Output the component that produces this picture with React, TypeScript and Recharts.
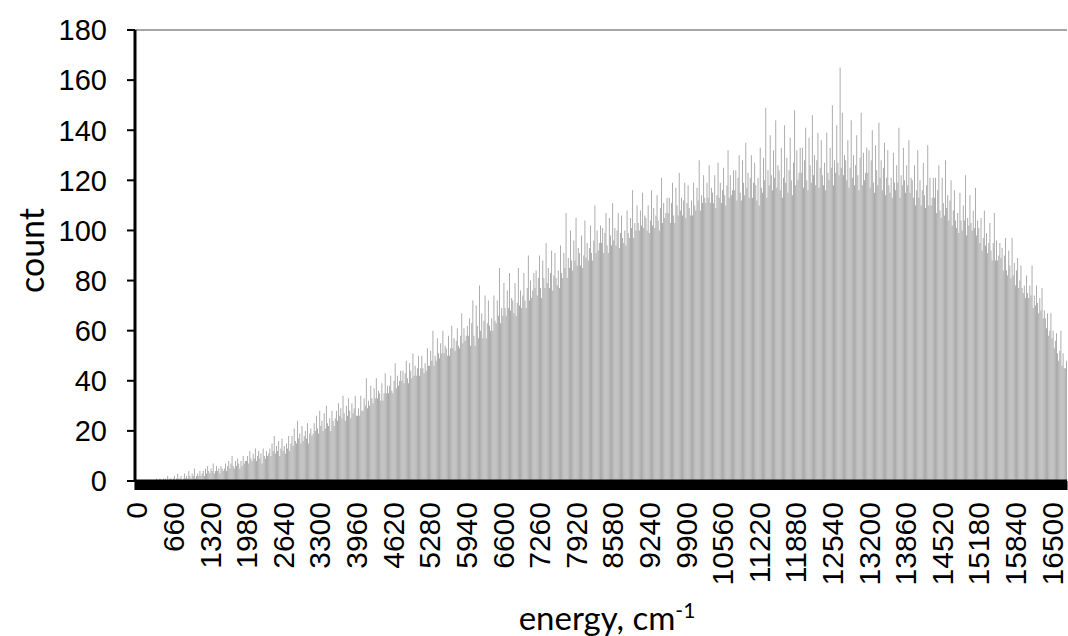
import React from 'react';
import { BarChart, Bar, XAxis, YAxis, ReferenceLine } from 'recharts';

// histogram bins are 20 cm-1 wide, starting at 0
const BIN_WIDTH = 20;

// counts per bin, one line = 20 bins (400 cm-1)
const counts: number[] = [
  0, 0, 0, 0, 0, 0, 0, 0, 0, 0, 0, 0, 0, 0, 0, 0, 0, 0, 0, 1,
  0, 0, 1, 0, 0, 1, 0, 1, 0, 2, 0, 1, 1, 0, 1, 2, 0, 1, 3, 1,
  1, 2, 0, 1, 3, 1, 2, 1, 4, 2, 1, 3, 2, 5, 1, 2, 3, 2, 4, 2,
  3, 4, 2, 5, 3, 6, 4, 3, 5, 4, 7, 3, 4, 6, 4, 5, 3, 6, 5, 4,
  5, 7, 4, 6, 8, 5, 7, 10, 6, 5, 8, 6, 9, 7, 5, 8, 6, 10, 7, 8,
  8, 10, 7, 12, 9, 8, 11, 9, 13, 8, 10, 12, 9, 11, 7, 13, 10, 9, 12, 10,
  11, 13, 10, 15, 12, 18, 11, 14, 12, 16, 10, 13, 17, 12, 14, 11, 15, 13, 18, 12,
  15, 18, 14, 21, 16, 15, 24, 17, 19, 15, 22, 16, 18, 20, 17, 23, 15, 19, 21, 18,
  19, 23, 20, 26, 21, 19, 28, 22, 24, 20, 27, 21, 30, 23, 22, 25, 20, 28, 24, 22,
  25, 28, 24, 31, 26, 29, 25, 34, 27, 24, 30, 26, 33, 28, 25, 31, 27, 29, 34, 26,
  26, 29, 26, 34, 28, 28, 33, 30, 41, 29, 32, 30, 38, 33, 31, 37, 33, 41, 33, 36,
  35, 32, 39, 32, 35, 43, 35, 38, 35, 38, 42, 36, 35, 40, 47, 37, 42, 38, 40, 44,
  40, 44, 39, 43, 48, 41, 39, 47, 44, 41, 51, 42, 46, 42, 45, 50, 42, 45, 50, 45,
  43, 47, 44, 53, 46, 46, 52, 48, 60, 46, 50, 48, 57, 51, 49, 55, 51, 60, 51, 54,
  53, 50, 58, 50, 53, 62, 53, 57, 52, 56, 61, 54, 53, 58, 67, 55, 61, 56, 58, 62,
  58, 65, 54, 63, 72, 58, 54, 70, 62, 57, 78, 60, 67, 57, 64, 74, 57, 63, 72, 62,
  60, 65, 60, 74, 64, 63, 72, 66, 85, 63, 69, 66, 79, 69, 66, 76, 69, 83, 68, 73,
  72, 67, 79, 66, 71, 85, 70, 76, 69, 74, 83, 72, 69, 77, 90, 72, 80, 73, 76, 83,
  77, 84, 74, 81, 90, 77, 73, 88, 81, 77, 95, 79, 85, 77, 83, 92, 76, 82, 91, 81,
  78, 84, 77, 94, 83, 81, 91, 85, 107, 81, 89, 85, 100, 88, 84, 96, 88, 105, 86, 93,
  91, 86, 98, 85, 90, 104, 89, 95, 88, 93, 102, 91, 88, 96, 110, 91, 100, 92, 95, 102,
  95, 101, 91, 99, 107, 94, 91, 105, 98, 94, 111, 96, 101, 94, 100, 107, 93, 99, 106, 97,
  95, 100, 94, 108, 99, 97, 105, 101, 116, 97, 103, 100, 110, 103, 100, 108, 102, 115, 101, 106,
  105, 100, 110, 99, 104, 116, 102, 109, 101, 106, 114, 104, 100, 109, 121, 103, 111, 105, 107, 113,
  107, 113, 103, 111, 119, 106, 103, 117, 110, 106, 123, 108, 113, 106, 112, 119, 105, 111, 118, 109,
  106, 112, 106, 119, 110, 108, 117, 112, 128, 108, 114, 111, 122, 113, 111, 119, 113, 126, 111, 117,
  115, 111, 122, 109, 114, 127, 113, 119, 111, 116, 125, 114, 110, 118, 132, 113, 122, 114, 116, 124,
  116, 124, 112, 121, 130, 115, 112, 128, 119, 114, 135, 117, 123, 113, 121, 130, 113, 119, 127, 118,
  112, 121, 110, 133, 117, 115, 129, 120, 149, 113, 124, 118, 138, 122, 116, 132, 121, 144, 117, 126,
  124, 116, 133, 113, 121, 142, 119, 129, 115, 124, 137, 120, 114, 127, 148, 118, 132, 120, 123, 133,
  123, 133, 117, 128, 141, 120, 116, 137, 126, 119, 146, 122, 130, 118, 128, 139, 117, 125, 136, 122,
  118, 127, 116, 139, 123, 120, 133, 125, 150, 118, 128, 123, 142, 127, 122, 165, 125, 147, 122, 130,
  128, 120, 136, 117, 125, 144, 121, 130, 118, 126, 138, 122, 116, 129, 147, 118, 131, 120, 123, 133,
  123, 132, 117, 128, 140, 119, 115, 134, 124, 118, 143, 121, 128, 116, 125, 135, 114, 121, 132, 118,
  115, 121, 113, 131, 119, 116, 126, 119, 141, 113, 122, 118, 133, 120, 115, 126, 118, 136, 115, 121,
  120, 113, 126, 110, 116, 132, 113, 120, 110, 116, 127, 114, 109, 118, 134, 110, 121, 110, 113, 121,
  113, 121, 107, 116, 126, 108, 105, 121, 111, 106, 128, 109, 114, 104, 112, 120, 102, 108, 116, 104,
  101, 107, 99, 115, 104, 100, 110, 104, 122, 98, 105, 102, 114, 103, 100, 108, 101, 117, 98, 104,
  101, 95, 105, 92, 97, 108, 94, 99, 91, 95, 103, 92, 88, 95, 107, 88, 96, 88, 90, 95,
  89, 93, 84, 90, 97, 84, 82, 92, 86, 81, 97, 82, 87, 78, 84, 89, 77, 80, 86, 77,
  75, 78, 73, 82, 75, 73, 78, 74, 86, 69, 74, 70, 78, 71, 67, 73, 68, 77, 65, 68,
  65, 61, 67, 58, 60, 67, 57, 60, 53, 56, 59, 51, 48, 52, 60, 46, 51, 45, 45, 48,
];

const xTickLabels = [
  0, 660, 1320, 1980, 2640, 3300, 3960, 4620, 5280, 5940, 6600, 7260, 7920,
  8580, 9240, 9900, 10560, 11220, 11880, 12540, 13200, 13860, 14520, 15180,
  15840, 16500,
];
const yTicks = [0, 20, 40, 60, 80, 100, 120, 140, 160, 180];

const data = counts.map((count, i) => ({ energy: i * BIN_WIDTH, count }));

const ARIAL = '"Liberation Sans", Arial, sans-serif';
const TITLE_FONT = 'Lato, "Open Sans", sans-serif';

// every bin gets a tick mark, only every 33rd gets a label
const EnergyTick = (props: any) => {
  const { x, y, payload } = props;
  if (!xTickLabels.includes(payload.value)) return <g />;
  return (
    <text
      transform={`translate(${x + 1},${y + 10}) rotate(-90)`}
      textAnchor="end"
      dy="0.36em"
      fontSize={30}
      fontFamily={ARIAL}
      fill="#000"
    >
      {payload.value}
    </text>
  );
};

const CountTitle = (props: any) => {
  const { viewBox } = props;
  const cx = viewBox.x + 44;
  const cy = viewBox.y + viewBox.height / 2 - 5;
  return (
    <text
      x={cx}
      y={cy}
      transform={`rotate(-90, ${cx}, ${cy})`}
      textAnchor="middle"
      fontSize={34}
      fontFamily={TITLE_FONT}
      fill="#000"
    >
      count
    </text>
  );
};

const EnergyTitle = (props: any) => {
  const { viewBox } = props;
  const cx = viewBox.x + viewBox.width / 2 + 6;
  const by = viewBox.y + 149;
  return (
    <text x={cx} y={by} textAnchor="middle" fontSize={33} fontFamily={TITLE_FONT} fill="#000">
      energy, cm
      <tspan fontSize={21} dy={-12}>-1</tspan>
    </text>
  );
};

const App: React.FC = () => {
  return (
    <div style={{ position: 'absolute', left: 0, top: 0, width: 1068, height: 636, background: '#fff' }}>
      <BarChart
        width={1068}
        height={636}
        data={data}
        margin={{ top: 30, right: 1, bottom: 0, left: 0 }}
        barCategoryGap="10%"
      >
        <XAxis
          dataKey="energy"
          interval={0}
          height={155}
          tickSize={9}
          tickLine={{ stroke: '#000', strokeWidth: 2.2 }}
          axisLine={{ stroke: '#000', strokeWidth: 3 }}
          tick={<EnergyTick />}
          label={{ content: <EnergyTitle /> }}
        />
        <YAxis
          type="number"
          domain={[0, 180]}
          ticks={yTicks}
          width={135}
          tickSize={8}
          tickMargin={20}
          tickLine={{ stroke: '#000', strokeWidth: 2 }}
          axisLine={{ stroke: '#000', strokeWidth: 3 }}
          tick={{ fontSize: 29, fontFamily: ARIAL, fill: '#000' }}
          label={{ content: <CountTitle /> }}
        />
        <ReferenceLine y={180} stroke="#a6a6a6" strokeWidth={2} />
        <Bar dataKey="count" fill="#a2a2a2" isAnimationActive={false} />
      </BarChart>
    </div>
  );
};

export default App;
